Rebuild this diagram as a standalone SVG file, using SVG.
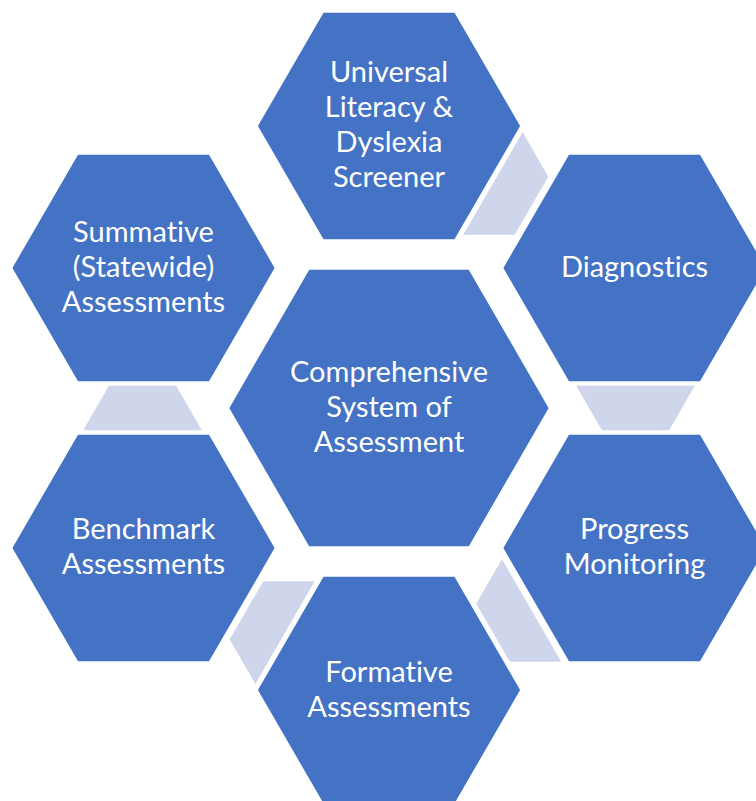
<svg xmlns="http://www.w3.org/2000/svg" xmlns:xlink="http://www.w3.org/1999/xlink" width="756" height="801" viewBox="0 0 756 801">
<style>
.hex{fill:#4472C4;stroke:#ffffff;stroke-width:1.5}
.conn{fill:#CFD5EA;stroke:#ffffff;stroke-width:1.5}
.lbl{font-family:Lato,"Open Sans","Liberation Sans",sans-serif;font-size:29px;fill:#ffffff;text-anchor:middle;font-variant-ligatures:none;font-feature-settings:"liga" 0,"clig" 0}
</style>
<defs>
<polygon id="trap" points="108.5,385 176.5,385 203,431 82,431"/>
</defs>
<rect width="756" height="801" fill="#ffffff"/>
<g id="connectors">
<use xlink:href="#trap" href="#trap" class="conn" transform="rotate(120 389 408)"/>
<use xlink:href="#trap" href="#trap" class="conn" transform="rotate(180 389 408)"/>
<use xlink:href="#trap" href="#trap" class="conn" transform="rotate(240 389 408)"/>
<use xlink:href="#trap" href="#trap" class="conn" transform="rotate(300 389 408)"/>
<use xlink:href="#trap" href="#trap" class="conn"/>
</g>
<g id="center">
<polygon class="hex" points="228.5,408 308.75,269 469.25,269 549.5,408 469.25,547 308.75,547"/>
<text class="lbl" x="389" y="381.5">Comprehensive</text>
<text class="lbl" x="389" y="416.5">System of</text>
<text class="lbl" x="389" y="451.5">Assessment</text>
</g>
<g id="screener">
<polygon class="hex" points="257,126 323,12 455,12 521,126 455,240 323,240"/>
<text class="lbl" x="389" y="81.7">Universal</text>
<text class="lbl" x="389" y="116.7">Literacy &amp;</text>
<text class="lbl" x="389" y="151.7">Dyslexia</text>
<text class="lbl" x="389" y="186.7">Screener</text>
</g>
<g id="diagnostics">
<polygon class="hex" points="502.5,268 568.5,154 700.5,154 766.5,268 700.5,382 568.5,382"/>
<text class="lbl" x="634.5" y="276.7">Diagnostics</text>
</g>
<g id="progress">
<polygon class="hex" points="502.5,548 568.5,434 700.5,434 766.5,548 700.5,662 568.5,662"/>
<text class="lbl" x="634.5" y="538.5">Progress</text>
<text class="lbl" x="634.5" y="573.5">Monitoring</text>
</g>
<g id="formative">
<polygon class="hex" points="257,690 323,576 455,576 521,690 455,804 323,804"/>
<text class="lbl" x="389" y="681.7">Formative</text>
<text class="lbl" x="389" y="716.7">Assessments</text>
</g>
<g id="benchmark">
<polygon class="hex" points="11.5,548 77.5,434 209.5,434 275.5,548 209.5,662 77.5,662"/>
<text class="lbl" x="143.5" y="538.5">Benchmark</text>
<text class="lbl" x="143.5" y="573.5">Assessments</text>
</g>
<g id="summative">
<polygon class="hex" points="11.5,268 77.5,154 209.5,154 275.5,268 209.5,382 77.5,382"/>
<text class="lbl" x="143.5" y="241.7">Summative</text>
<text class="lbl" x="143.5" y="276.7">(Statewide)</text>
<text class="lbl" x="143.5" y="311.7">Assessments</text>
</g>
</svg>
